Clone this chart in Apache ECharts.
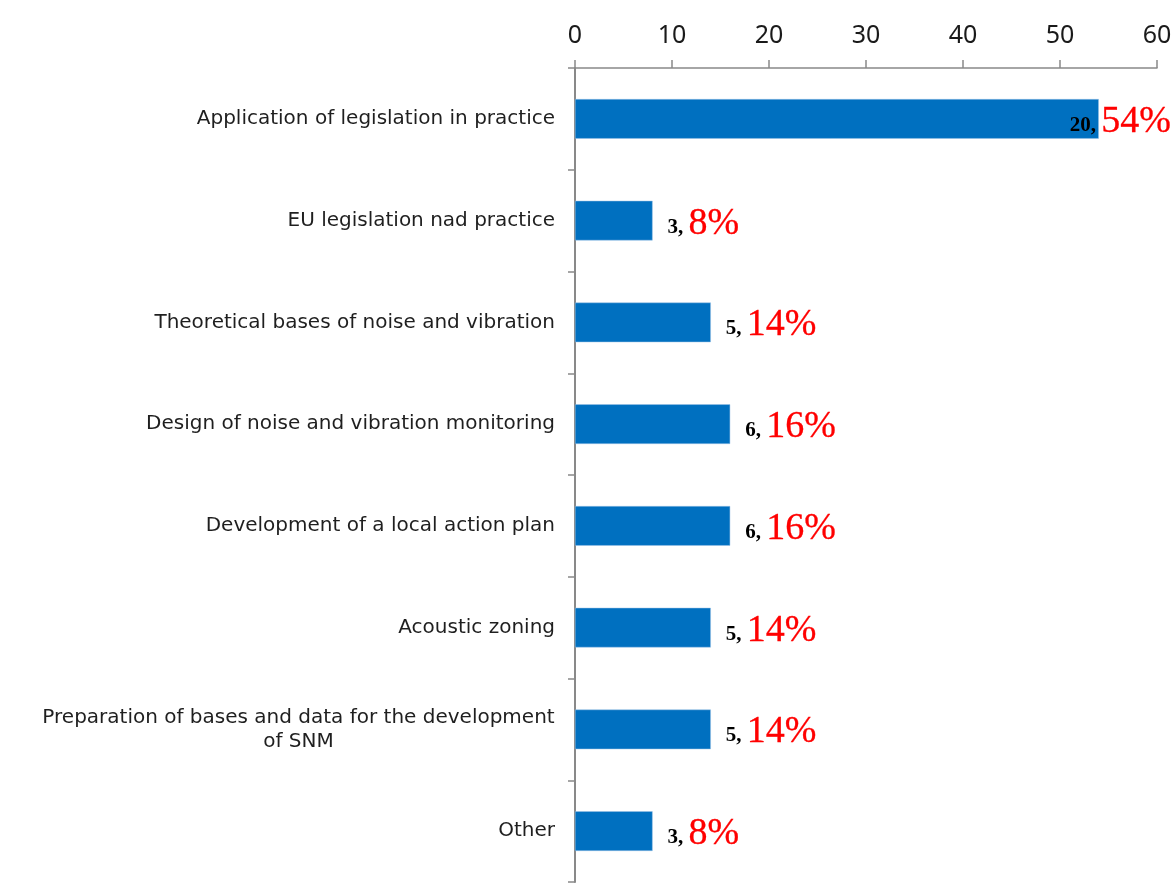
<!DOCTYPE html>
<html>
<head>
<meta charset="utf-8">
<script src="https://cdn.jsdelivr.net/npm/echarts@6/dist/echarts.min.js"></script>
<style>
    html, body { margin: 0; padding: 0; background: #fff; }
    #chart { width: 1176px; height: 888px; }
</style>
</head>
<body>
<div id="chart"></div>
<script>
// data
var categories = [
    'Application of legislation in practice',
    'EU legislation nad practice',
    'Theoretical bases of noise and vibration',
    'Design of noise and vibration monitoring',
    'Development of a local action plan',
    'Acoustic zoning',
    'Preparation of bases and data for the development\nof SNM',
    'Other'
];
var counts = [20, 3, 5, 6, 6, 5, 5, 3];
var percents = [54, 8, 14, 16, 16, 14, 14, 8];
var xTicks = [0, 10, 20, 30, 40, 50, 60];

var labelFont = '20px "DejaVu Sans"';

var myChart = echarts.init(document.getElementById('chart'));

// measure a text so the wrapped label keeps its lines centred under each other
var measureCtx = document.createElement('canvas').getContext('2d');
function textWidth(s) {
    measureCtx.font = labelFont;
    return Math.ceil(measureCtx.measureText(s).width);
}

var barData = percents.map(function (v, i) {
    // first label sits partly over the bar end
    if (i === 0) return { value: v, label: { offset: [-44, 0] } };
    return v;
});

var option = {
    animation: false,
    grid: { left: 575, right: 19, top: 68, bottom: 6, containLabel: false },
    xAxis: {
        type: 'value',
        position: 'top',
        min: xTicks[0],
        max: xTicks[xTicks.length - 1],
        interval: 10,
        splitLine: { show: false },
        axisLine: { show: true, lineStyle: { color: '#898989', width: 1.5 } },
        axisTick: { show: true, length: 8, lineStyle: { color: '#898989', width: 1.5 } },
        axisLabel: {
            margin: 20,
            fontFamily: 'Noto Sans',
            fontSize: 25,
            color: '#1a1a1a'
        }
    },
    yAxis: {
        type: 'category',
        inverse: true,
        data: categories,
        axisLine: { show: true, lineStyle: { color: '#898989', width: 2 } },
        axisTick: { show: true, length: 7, lineStyle: { color: '#898989', width: 1.5 } },
        axisLabel: {
            margin: 20,
            fontFamily: 'DejaVu Sans',
            fontSize: 20,
            color: '#1f1f1f',
            lineHeight: 24,
            formatter: function (val) {
                if (val.indexOf('\n') < 0) return val;
                return val.split('\n').map(function (s) { return '{w|' + s + '}'; }).join('\n');
            },
            rich: {
                w: {
                    width: textWidth('Preparation of bases and data for the development'),
                    align: 'center',
                    fontFamily: 'DejaVu Sans',
                    fontSize: 20,
                    color: '#1f1f1f',
                    lineHeight: 24
                }
            }
        }
    },
    series: [{
        type: 'bar',
        data: barData,
        barWidth: '39%',
        itemStyle: { color: '#0070C0', borderColor: '#9dc3e6', borderWidth: 0.5 },
        label: {
            show: true,
            position: 'right',
            distance: 15,
            formatter: function (p) {
                return '{n|' + counts[p.dataIndex] + ', }{p|' + p.value + '%}';
            },
            rich: {
                n: {
                    fontFamily: 'Liberation Serif',
                    fontWeight: 'bold',
                    fontSize: 21,
                    color: '#000',
                    verticalAlign: 'bottom',
                    lineHeight: 22,
                    padding: [0, 0, 3, 0]
                },
                p: {
                    fontFamily: 'Liberation Serif',
                    fontSize: 38,
                    color: '#ff0000',
                    textBorderColor: '#ff0000',
                    textBorderWidth: 0.3,
                    lineHeight: 40,
                    padding: [6, 0, 0, 0]
                }
            }
        }
    }]
};

if (option && typeof option === "object") {
    myChart.setOption(option, true);
}
</script>
</body>
</html>
